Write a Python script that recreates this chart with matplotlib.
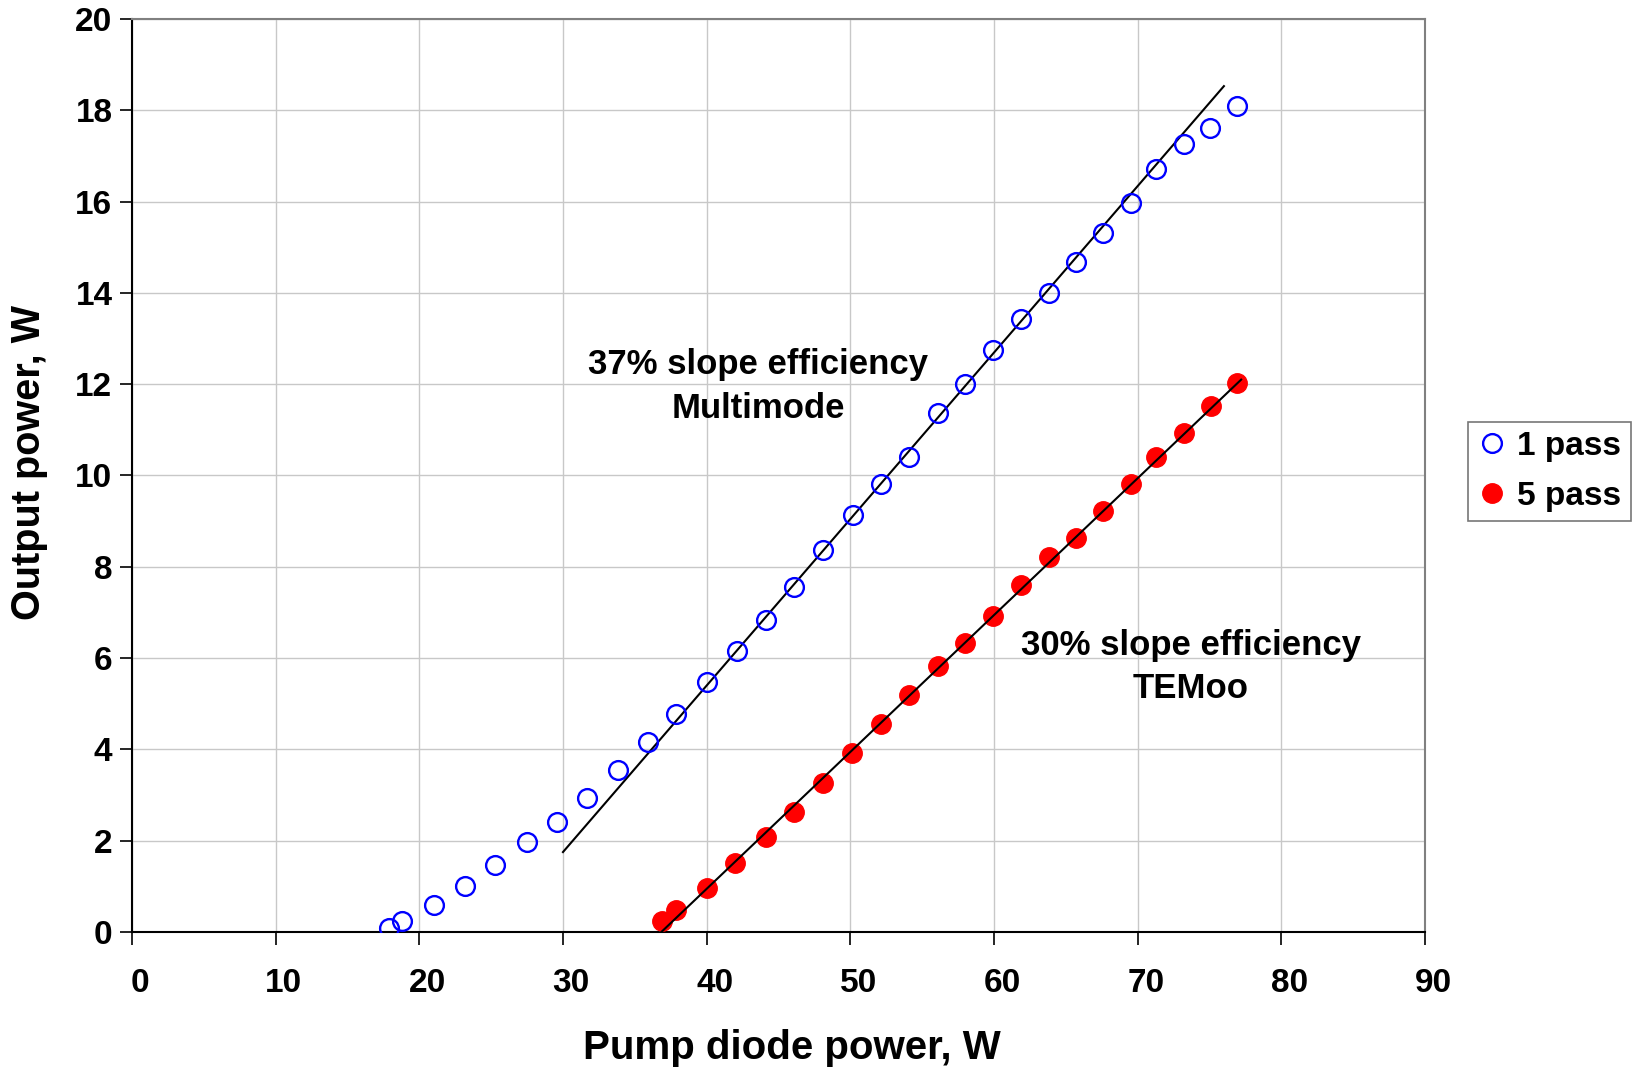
import numpy as np
import matplotlib
matplotlib.use("Agg")
import matplotlib.pyplot as plt
import matplotlib.transforms as mtransforms

plt.rcParams['font.family'] = ['Liberation Sans', 'DejaVu Sans']
plt.rcParams['font.weight'] = 'bold'

# 1 pass data (open blue circles)
pump1 = [17.9, 18.8, 21.0, 23.2, 25.3, 27.5, 29.6, 31.7, 33.8, 35.9, 37.9,
         40.0, 42.1, 44.1, 46.1, 48.1, 50.2, 52.1, 54.1, 56.1, 58.0, 59.9,
         61.9, 63.8, 65.7, 67.6, 69.5, 71.3, 73.2, 75.0, 76.9]
out1 = [0.09, 0.23, 0.60, 1.00, 1.47, 1.98, 2.41, 2.94, 3.54, 4.16, 4.78,
        5.47, 6.16, 6.83, 7.56, 8.37, 9.13, 9.82, 10.41, 11.36, 12.00, 12.74,
        13.43, 14.00, 14.67, 15.31, 15.98, 16.71, 17.26, 17.61, 18.09]

# 5 pass data (filled red circles)
pump5 = [36.9, 37.9, 40.0, 42.0, 44.1, 46.1, 48.1, 50.1, 52.1, 54.1, 56.1,
         58.0, 59.9, 61.9, 63.8, 65.7, 67.6, 69.5, 71.3, 73.2, 75.1, 76.9]
out5 = [0.25, 0.48, 0.97, 1.52, 2.07, 2.62, 3.26, 3.91, 4.55, 5.20, 5.82,
        6.32, 6.92, 7.61, 8.21, 8.62, 9.22, 9.82, 10.41, 10.94, 11.52, 12.02]

# slope fit lines
fit1_x = [30.0, 76.0]
fit1_y = [1.75, 18.53]
fit5_x = [36.85, 77.2]
fit5_y = [0.0, 12.1]

fig = plt.figure(figsize=(16.45, 10.69), dpi=100)
ax = fig.add_axes([0.0802, 0.1282, 0.7861, 0.854])

ax.plot(fit1_x, fit1_y, color='black', lw=1.5, zorder=2)
ax.plot(fit5_x, fit5_y, color='black', lw=1.5, zorder=4)
ax.plot(pump1, out1, 'o', ls='none', ms=13.5, mfc='none', mec='blue', mew=1.7,
        label='1 pass', zorder=3)
ax.plot(pump5, out5, 'o', ls='none', ms=14, mfc='red', mec='red',
        label='5 pass', zorder=3)

ax.text(43.6, 11.95, '37% slope efficiency\nMultimode', ha='center', va='center',
        fontsize=25, fontweight='bold', linespacing=1.4)
ax.text(73.7, 5.8, '30% slope efficiency\nTEMoo', ha='center', va='center',
        fontsize=25, fontweight='bold', linespacing=1.4)

ax.set_xlim(0, 90)
ax.set_ylim(0, 20)
ax.set_xticks(np.arange(0, 91, 10))
ax.set_yticks(np.arange(0, 21, 2))
ax.grid(True, color='#c8c8c8', lw=1.0)
ax.set_axisbelow(True)

for s in ['left', 'bottom']:
    ax.spines[s].set_color('black')
    ax.spines[s].set_linewidth(1.5)
for s in ['top', 'right']:
    ax.spines[s].set_color('#808080')
    ax.spines[s].set_linewidth(1.5)

ax.tick_params(axis='x', direction='out', length=9, width=1.2, labelsize=24, pad=17)
ax.tick_params(axis='y', direction='out', length=9, width=1.2, labelsize=24, pad=5)
shift = mtransforms.ScaledTranslation(0.08, 0, fig.dpi_scale_trans)
for lab in ax.get_xticklabels():
    lab.set_fontweight('bold')
    lab.set_transform(lab.get_transform() + shift)
for lab in ax.get_yticklabels():
    lab.set_fontweight('bold')

ax.set_xlabel('Pump diode power, W', fontsize=29, fontweight='bold', va='center')
ax.set_ylabel('Output power, W', fontsize=28.5, fontweight='bold', va='center')
ax.xaxis.set_label_coords(0.510, -0.127)
ax.yaxis.set_label_coords(-0.0797, 0.514)

leg = fig.legend(loc='upper left', bbox_to_anchor=(0.8925, 0.6055), fontsize=24,
                 frameon=True, fancybox=False, edgecolor='#555555',
                 handletextpad=0.3, borderpad=0.28, labelspacing=0.57,
                 handlelength=0.9, borderaxespad=0)
leg.get_frame().set_linewidth(1.2)
for t in leg.get_texts():
    t.set_fontweight('bold')

fig.savefig('out.png', dpi=100)
